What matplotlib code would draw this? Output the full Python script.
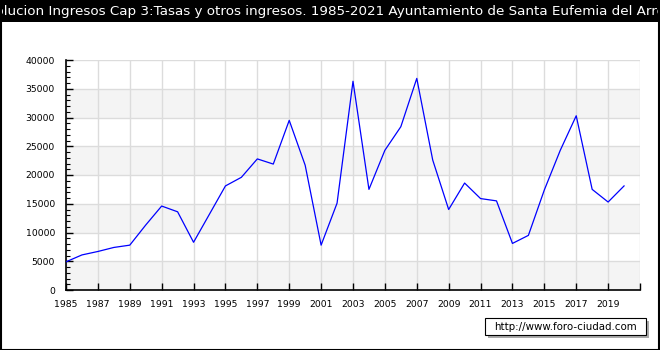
import matplotlib
matplotlib.use('Agg')
import matplotlib.pyplot as plt
from matplotlib.patches import Rectangle
import numpy as np

# Data
years = list(range(1985, 2021))
values = [4900, 6100, 6700, 7400, 7800, 11300, 14600, 13600, 8300, 13200,
          18100, 19600, 22800, 21900, 29500, 21700, 7800, 15100, 36300, 17500,
          24300, 28400, 36800, 22600, 14000, 18600, 15900, 15500, 8100, 9500,
          17400, 24300, 30300, 17500, 15300, 18100]
title = ('Evolucion Ingresos Cap 3:Tasas y otros ingresos. 1985-2021 '
         'Ayuntamiento de Santa Eufemia del Arroyo')
y_ticks = list(range(0, 40001, 5000))
x_ticks = list(range(1985, 2022, 2))
x_labels = [str(y) for y in x_ticks[:-1]] + ['']

W, H = 660, 350
fig = plt.figure(figsize=(W / 100, H / 100), dpi=100)
fig.patch.set_facecolor('white')

# title bar
fig.patches.append(Rectangle((0, 1 - 22 / H), 1, 22 / H, transform=fig.transFigure,
                             facecolor='black', edgecolor='none', zorder=0))
fig.text(0.5, 1 - 11.5 / H, title, color='white', fontsize=9.7,
         ha='center', va='center')

ax = fig.add_axes([66 / W, 60 / H, 574 / W, 230 / H])
ax.set_xlim(1985, 2021)
ax.set_ylim(0, 40000)

# alternating bands
for i in range(0, 40000, 10000):
    ax.axhspan(i, i + 5000, color='#f4f4f4', zorder=0, lw=0)

ax.set_xticks(x_ticks)
ax.set_xticklabels(x_labels)
ax.set_yticks(y_ticks)
ax.set_yticks(range(0, 40001, 1000), minor=True)
ax.grid(True, which='major', color='#dcdcdc', linewidth=1, zorder=1)
ax.set_axisbelow(True)

ax.plot(years, values, color='#0000ff', linewidth=0.9, zorder=3)

for s in ['top', 'right']:
    ax.spines[s].set_visible(False)
for s in ['left', 'bottom']:
    ax.spines[s].set_linewidth(1.2)
ax.tick_params(axis='both', which='major', direction='in', length=5,
               width=1, labelsize=6.7)
ax.tick_params(axis='x', which='major', pad=7)
ax.tick_params(axis='y', which='major', pad=8)
ax.tick_params(axis='y', which='minor', direction='in', length=3, width=0.8)
ax.tick_params(axis='x', which='minor', bottom=False)

# watermark box with shadow
fig.patches.append(Rectangle((488 / W, 1 - 338 / H), 161 / W, 17 / H,
                             transform=fig.transFigure, facecolor='#aaaaaa',
                             edgecolor='none', zorder=1))
fig.patches.append(Rectangle((485 / W, 1 - 335 / H), 161 / W, 17 / H,
                             transform=fig.transFigure, facecolor='white',
                             edgecolor='black', linewidth=0.8, zorder=2))
fig.text(565.5 / W, 1 - 326.5 / H, 'http://www.foro-ciudad.com', fontsize=7.4,
         ha='center', va='center', zorder=3)

# outer border
fig.patches.append(Rectangle((0.5 / W, 0.5 / H), 1 - 1.5 / W, 1 - 1.5 / H,
                             transform=fig.transFigure, fill=False,
                             edgecolor='black', linewidth=1.5, zorder=5))

fig.savefig('out.png', dpi=100)
